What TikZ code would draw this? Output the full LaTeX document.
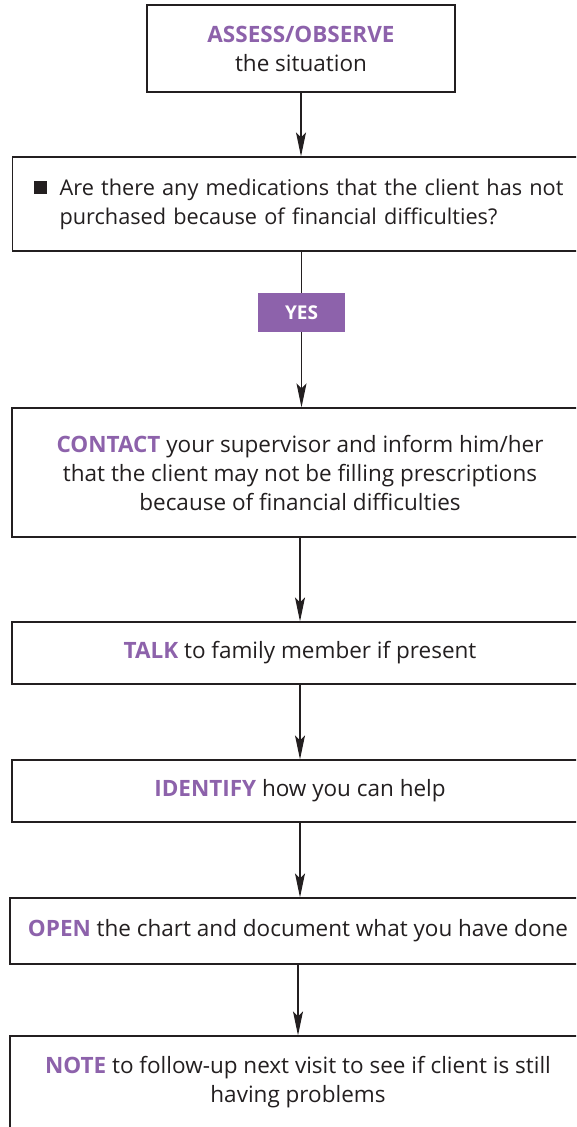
\documentclass[tikz,border=0pt]{standalone}
\usepackage{fontspec}
\setmainfont{Open Sans}
\usepackage{xcolor}
\usetikzlibrary{arrows.meta}

\definecolor{stepviolet}{RGB}{141,98,171}
\definecolor{inkblack}{RGB}{35,31,32}

\newcommand{\keyword}[1]{\textbf{\color{stepviolet}#1}}

\begin{document}
\begin{tikzpicture}[x=1pt,y=-1pt,
    font=\fontsize{22.5}{29}\selectfont,
    every node/.style={text=inkblack},
    stepbox/.style={draw=inkblack, line width=1.2pt, fill=white,
                    inner sep=0pt, align=center},
    yesbox/.style={fill=stepviolet, text=white, inner sep=0pt,
                   minimum width=87pt, minimum height=39pt,
                   font=\fontsize{19}{22}\selectfont\bfseries},
    flow/.style={draw=inkblack, line width=1.2pt,
                 -{Stealth[length=24pt,width=10pt,inset=5pt]}}]
  \clip (0,0) rectangle (576,1127);

% top box
\node[stepbox, minimum width=308pt, minimum height=87pt] (assess) at (301,48.5)
  {\keyword{ASSESS/OBSERVE}\\the situation};

% question
\node[stepbox, anchor=west, minimum height=94pt, align=left,
      text width=560pt, inner xsep=21pt,
      font=\fontsize{21.7}{29}\selectfont] (medq) at (12,204)
  {\raisebox{1pt}{\rule{13pt}{13pt}}\hspace{13pt}\parbox[t]{530pt}{\raggedright
   Are there any medications that the client has not\\
   purchased because of financial difficulties?}};

\node[yesbox] (yes) at (301.5,312.5) {YES};

% actions
\node[stepbox, minimum width=576pt, minimum height=129pt] (contact) at (300,472.5)
  {\keyword{CONTACT} your supervisor and inform him/her\\
   that the client may not be filling prescriptions\\
   because of financial difficulties};
\node[stepbox, minimum width=576pt, minimum height=62pt] (talk) at (300,653)
  {\keyword{TALK} to family member if present};
\node[stepbox, minimum width=576pt, minimum height=62pt] (identify) at (300,791)
  {\keyword{IDENTIFY} how you can help};
\node[stepbox, minimum width=576pt, minimum height=66pt] (open) at (298,931)
  {\keyword{OPEN} the chart and document what you have done};
\node[stepbox, minimum width=576pt, minimum height=92pt] (note) at (298,1082)
  {\keyword{NOTE} to follow-up next visit to see if client is still\\
   having problems};

\draw[flow] (assess.south) -- (assess.south |- medq.north);
\draw[line width=1.2pt, draw=inkblack] (yes.north |- medq.south) -- (yes.north);
\draw[flow] (yes.south) -- (yes.south |- contact.north);
\draw[flow] (contact.south) -- (talk.north);
\draw[flow] (talk.south) -- (identify.north);
\draw[flow] (identify.south) -- (identify.south |- open.north);
\draw[flow] (open.south) -- (note.north);

\end{tikzpicture}
\end{document}
